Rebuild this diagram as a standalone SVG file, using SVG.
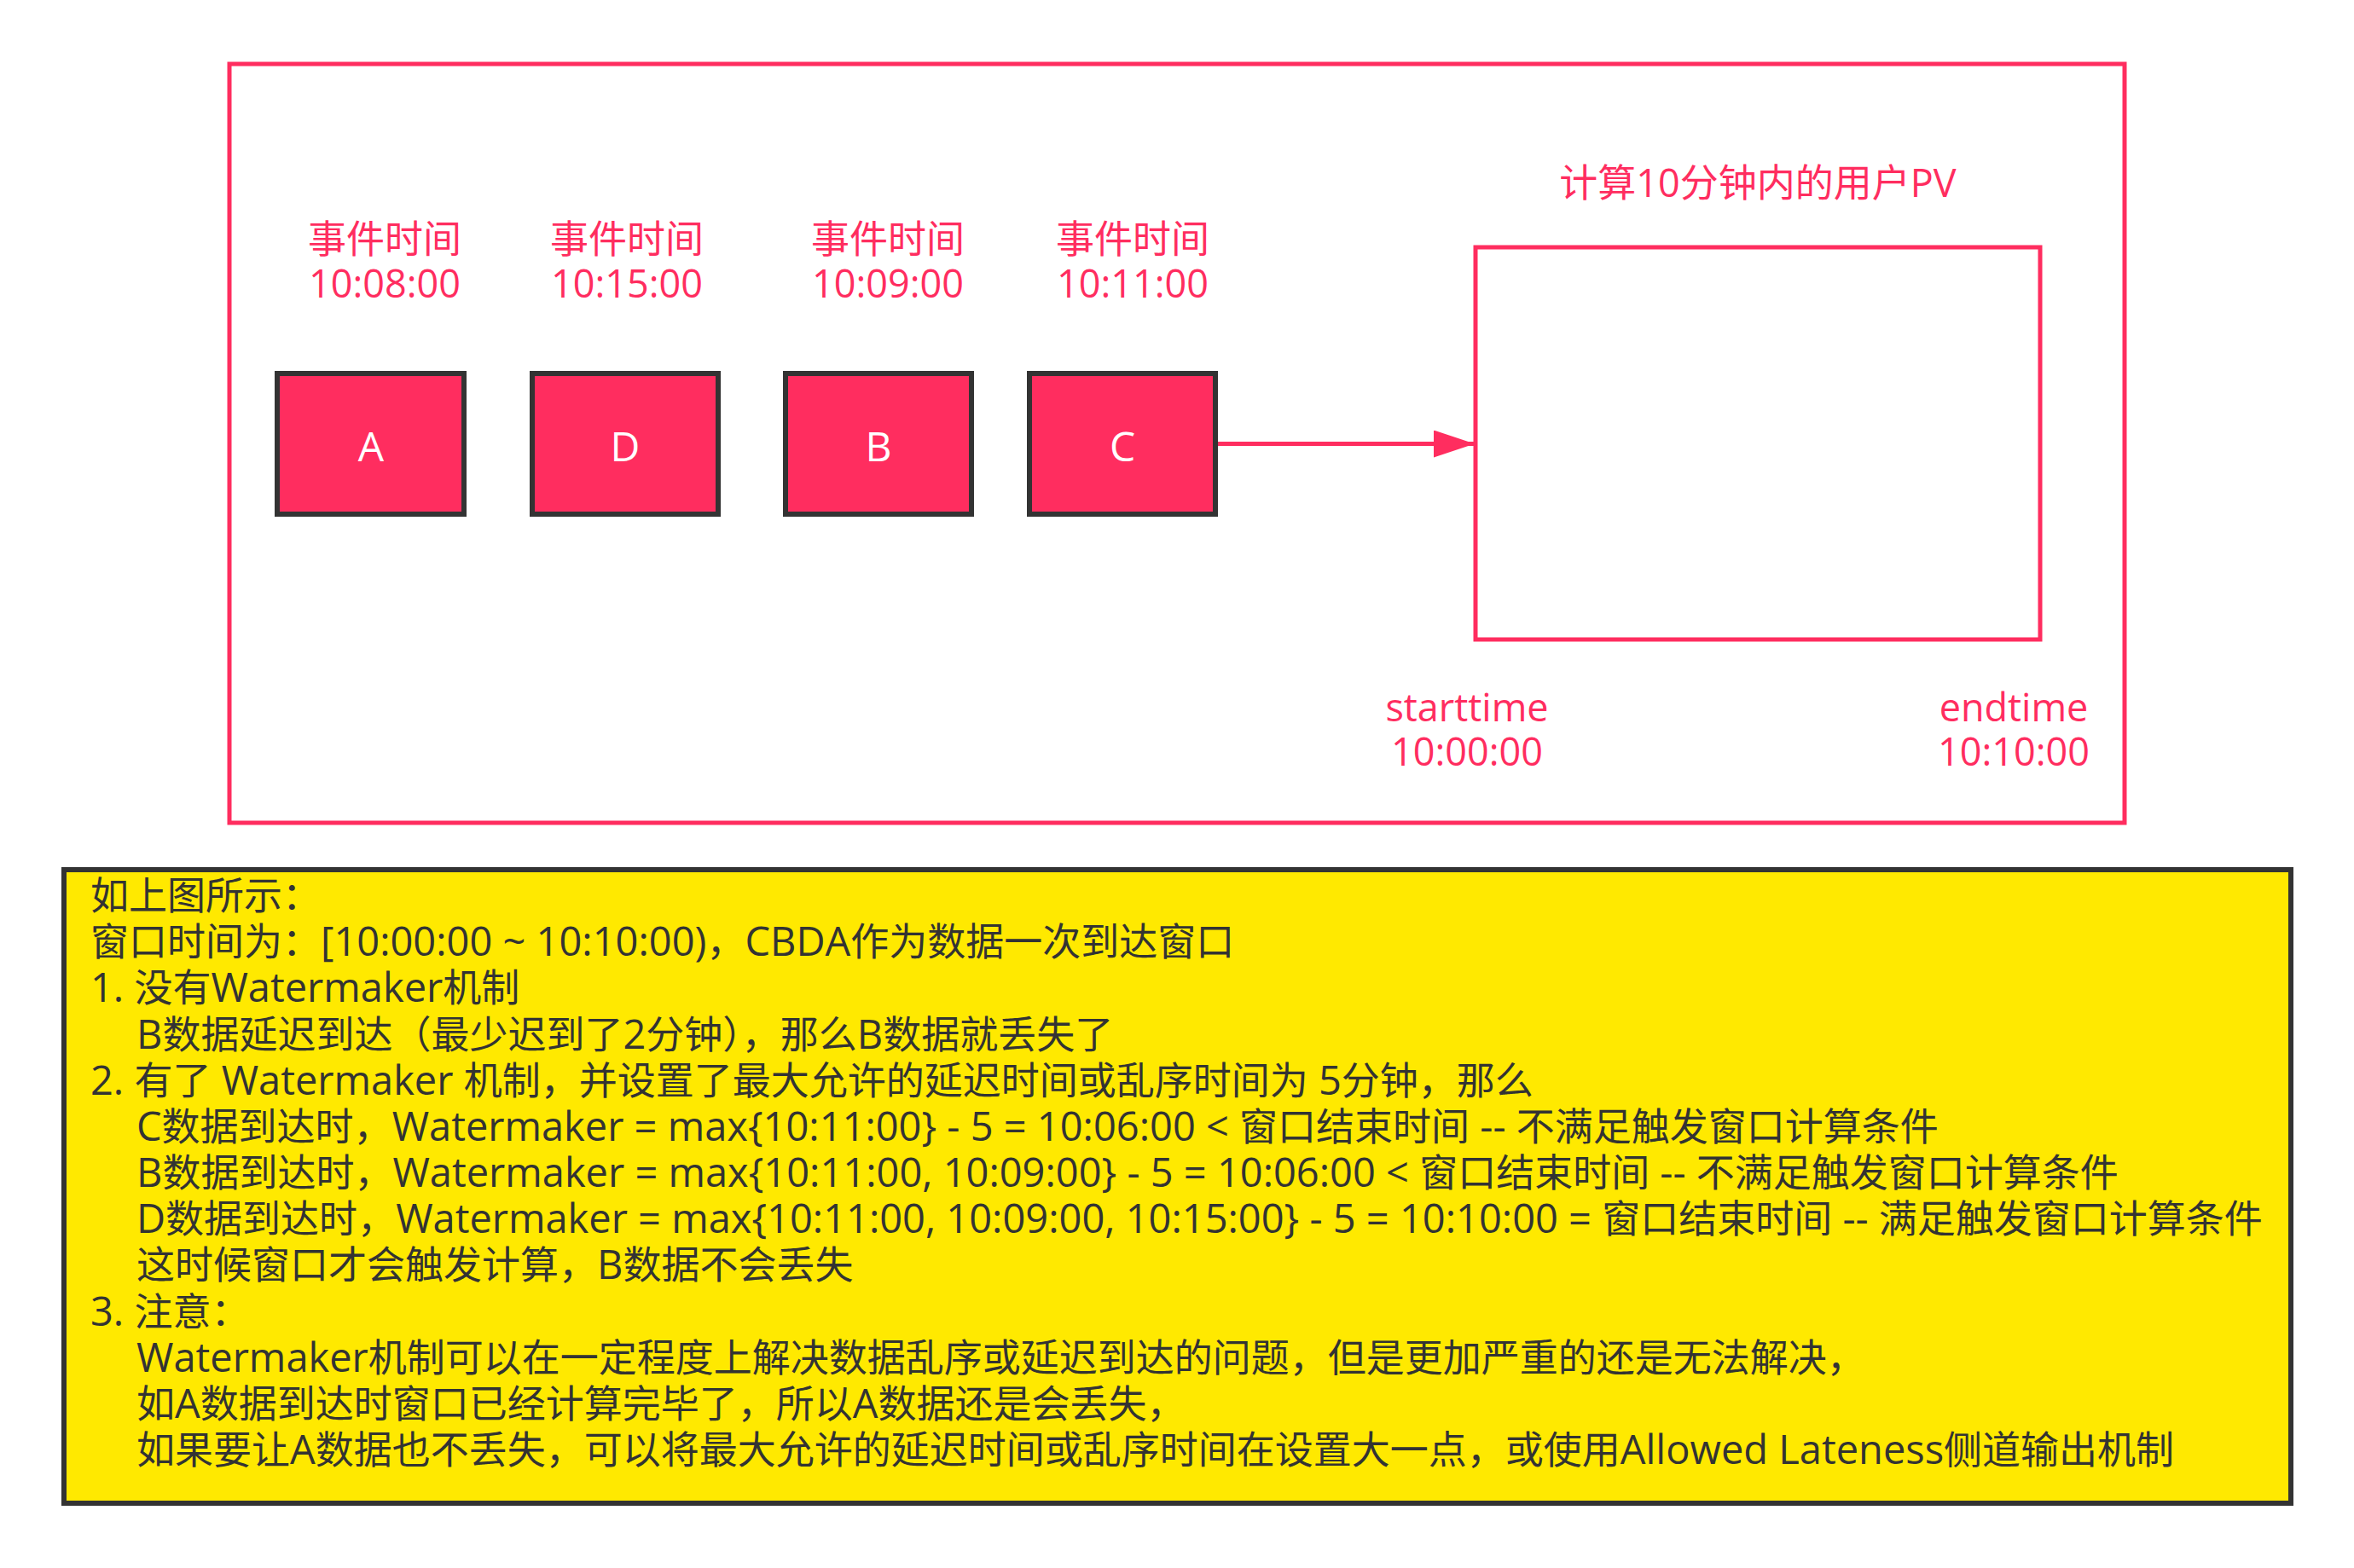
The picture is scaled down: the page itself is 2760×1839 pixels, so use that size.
<svg xmlns="http://www.w3.org/2000/svg" width="2760" height="1839" viewBox="0 0 2760 1839">
<defs>
<style>
.frame{fill:#ffffff;stroke:#ff2d5f;stroke-width:5}
.node rect{fill:#ff2d5f;stroke:#333333;stroke-width:6}
.node text{fill:#ffffff;font-family:"Open Sans","Noto Sans CJK SC",sans-serif;font-size:48px;text-anchor:middle}
.pk{fill:#ff2d5f;font-family:"Open Sans","Noto Sans CJK SC",sans-serif;font-size:45px;text-anchor:middle}
.note rect{fill:#ffe900;stroke:#333333;stroke-width:6}
.note text{fill:#333333;font-family:"Open Sans","Noto Sans CJK SC",sans-serif;font-size:45px;white-space:pre}
.note .l{font-size:47px}
.conn{stroke:#ff2d5f;stroke-width:5;fill:none}
</style>
<marker id="arrow" markerUnits="userSpaceOnUse" markerWidth="50" markerHeight="34" refX="48" refY="16" orient="auto">
<path d="M0,0 L48,16 L0,32 Z" fill="#ff2d5f"/>
</marker>
</defs>
<rect width="2760" height="1839" fill="#ffffff"/>
<g id="outer-frame">
<rect class="frame" x="269" y="75" width="2222" height="890"/>
</g>
<g id="labels">
<text class="pk" x="451" y="297">事件时间</text>
<text class="pk" x="451" y="349">10:08:00</text>
<text class="pk" x="735" y="297">事件时间</text>
<text class="pk" x="735" y="349">10:15:00</text>
<text class="pk" x="1041" y="297">事件时间</text>
<text class="pk" x="1041" y="349">10:09:00</text>
<text class="pk" x="1328" y="297">事件时间</text>
<text class="pk" x="1328" y="349">10:11:00</text>
<text class="pk" x="2061" y="231">计算10分钟内的用户PV</text>
<text class="pk" x="1720" y="846">starttime</text>
<text class="pk" x="1720" y="898">10:00:00</text>
<text class="pk" x="2361" y="846">endtime</text>
<text class="pk" x="2361" y="898">10:10:00</text>
</g>
<g id="node-A" class="node"><rect x="325" y="438" width="219" height="165"/><text x="435" y="541">A</text></g>
<g id="node-D" class="node"><rect x="624" y="438" width="218" height="165"/><text x="733" y="541">D</text></g>
<g id="node-B" class="node"><rect x="921" y="438" width="218" height="165"/><text x="1030" y="541">B</text></g>
<g id="node-C" class="node"><rect x="1207" y="438" width="218" height="165"/><text x="1316" y="541">C</text></g>
<g id="window">
<rect class="frame" x="1730" y="290" width="662" height="460"/>
</g>
<g id="connectors">
<path class="conn" d="M1428,520.5 L1729,520.5" marker-end="url(#arrow)"/>
</g>
<g id="note" class="note">
<rect x="75" y="1020" width="2611" height="743"/>
<text x="106" y="1067">如上图所示：</text>
<text x="106" y="1121">窗口时间为：<tspan class="l">[10:00:00 ~ 10:10:00)</tspan>，<tspan class="l">CBDA</tspan>作为数据一次到达窗口</text>
<text x="106" y="1175"><tspan class="l">1. </tspan>没有<tspan class="l">Watermaker</tspan>机制</text>
<text x="160" y="1230"><tspan class="l">B</tspan>数据延迟到达（最少迟到了<tspan class="l">2</tspan>分钟），那么<tspan class="l">B</tspan>数据就丢失了</text>
<text x="106" y="1284"><tspan class="l">2. </tspan>有了<tspan class="l"> Watermaker </tspan>机制，并设置了最大允许的延迟时间或乱序时间为<tspan class="l"> 5</tspan>分钟，那么</text>
<text x="160" y="1338"><tspan class="l">C</tspan>数据到达时，<tspan class="l">Watermaker = max{10:11:00} - 5 = 10:06:00 &lt; </tspan>窗口结束时间<tspan class="l"> -- </tspan>不满足触发窗口计算条件</text>
<text x="160" y="1392"><tspan class="l">B</tspan>数据到达时，<tspan class="l">Watermaker = max{10:11:00, 10:09:00} - 5 = 10:06:00 &lt; </tspan>窗口结束时间<tspan class="l"> -- </tspan>不满足触发窗口计算条件</text>
<text x="160" y="1446"><tspan class="l">D</tspan>数据到达时，<tspan class="l">Watermaker = max{10:11:00, 10:09:00, 10:15:00} - 5 = 10:10:00 = </tspan>窗口结束时间<tspan class="l"> -- </tspan>满足触发窗口计算条件</text>
<text x="160" y="1500">这时候窗口才会触发计算，<tspan class="l">B</tspan>数据不会丢失</text>
<text x="106" y="1555"><tspan class="l">3. </tspan>注意：</text>
<text x="160" y="1609"><tspan class="l">Watermaker</tspan>机制可以在一定程度上解决数据乱序或延迟到达的问题，但是更加严重的还是无法解决，</text>
<text x="160" y="1663">如<tspan class="l">A</tspan>数据到达时窗口已经计算完毕了，所以<tspan class="l">A</tspan>数据还是会丢失，</text>
<text x="160" y="1717">如果要让<tspan class="l">A</tspan>数据也不丢失，可以将最大允许的延迟时间或乱序时间在设置大一点，或使用<tspan class="l">Allowed Lateness</tspan>侧道输出机制</text>
</g>
</svg>
